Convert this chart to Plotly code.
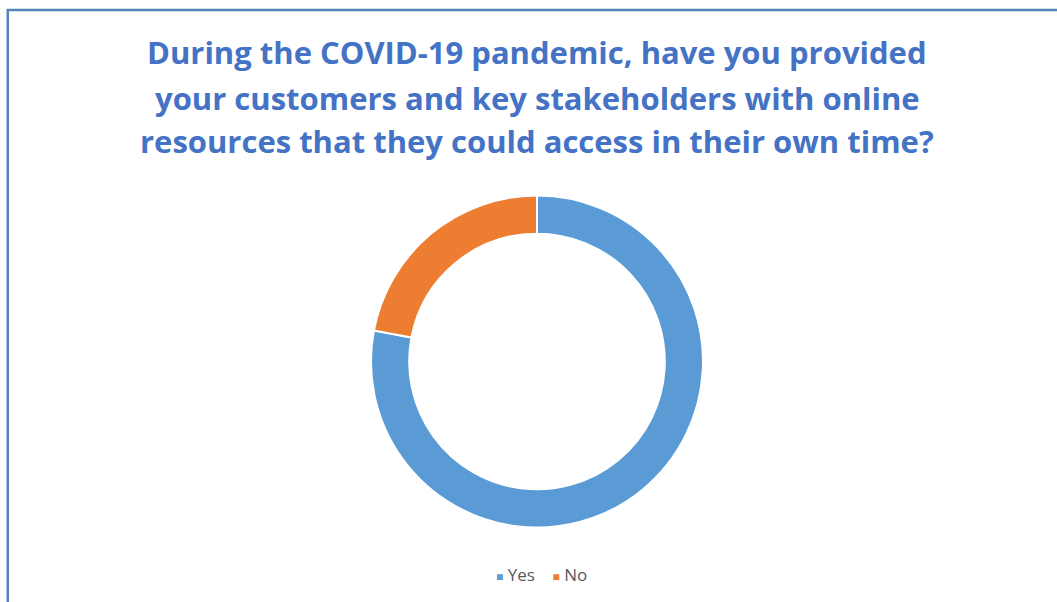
import plotly.graph_objects as go

# Survey answers (share of respondents, %)
answers = ["Yes", "No"]
shares = [78, 22]
slice_colors = ["#5B9BD5", "#ED7D31"]

title_lines = [
    "During the COVID-19 pandemic, have you provided",
    "your customers and key stakeholders with online",
    "resources that they could access in their own time?",
]

W, H = 1057, 602

fig = go.Figure(
    go.Pie(
        labels=answers,
        values=shares,
        hole=0.77,
        sort=False,
        direction="clockwise",
        rotation=0,
        marker=dict(colors=slice_colors, line=dict(color="white", width=2)),
        textinfo="none",
        hoverinfo="label+percent",
        showlegend=False,
        domain=dict(x=[(537 - 166) / W, (537 + 166) / W],
                    y=[1 - (361.5 + 166) / H, 1 - (361.5 - 166) / H]),
    )
)

# Title, one centred line each
title_y = [52, 98, 141]
for line, y in zip(title_lines, title_y):
    fig.add_annotation(
        text=line, x=537 / W, y=1 - y / H, xref="paper", yref="paper",
        showarrow=False, xanchor="center", yanchor="middle",
        font=dict(family="Open Sans", size=31, color="#4472C4", weight="bold"),
    )

# Legend: small coloured square followed by the answer label
legend_items = [
    f"<span style='color:{c};font-size:12px'>■</span> {a}"
    for a, c in zip(answers, slice_colors)
]
fig.add_annotation(
    text="    ".join(legend_items), x=541 / W, y=1 - 574 / H,
    xref="paper", yref="paper", showarrow=False,
    xanchor="center", yanchor="middle",
    font=dict(family="Open Sans", size=17, color="#595959"),
)

# Chart frame
fig.add_shape(
    type="rect", xref="paper", yref="paper",
    x0=7.8 / W, x1=1.05, y0=-0.05, y1=1 - 10 / H,
    line=dict(color="#5383B8", width=2.5), fillcolor="rgba(0,0,0,0)",
)

fig.update_layout(
    width=W, height=H,
    margin=dict(l=0, r=0, t=0, b=0),
    paper_bgcolor="white", plot_bgcolor="white",
    showlegend=False,
)

fig.write_html("out.html")
